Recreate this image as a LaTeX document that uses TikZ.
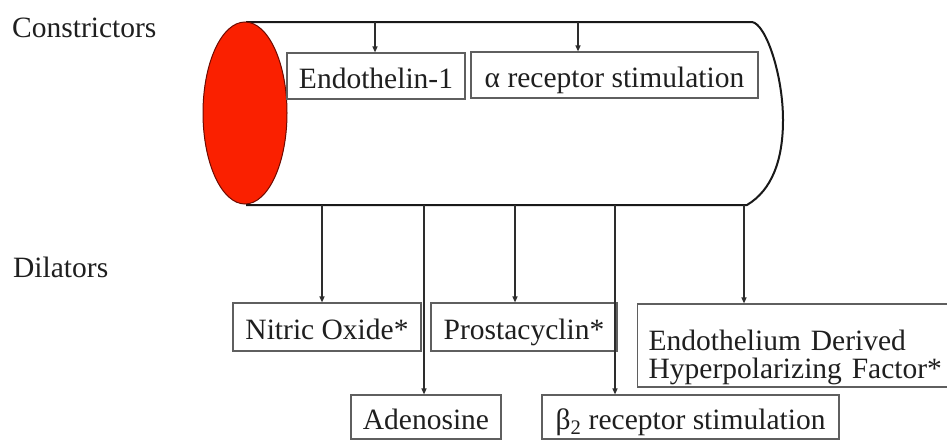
\documentclass[tikz,border=0pt]{standalone}
\usepackage{fontspec}
\setmainfont{Liberation Serif}
\newfontfamily\vesselfont{Liberation Serif}
\usetikzlibrary{arrows.meta}
\definecolor{boxgray}{RGB}{95,95,95}
\definecolor{linegray}{RGB}{45,45,45}
\definecolor{vesselred}{RGB}{250,32,0}
\definecolor{rimred}{RGB}{110,10,0}
\begin{document}
\begin{tikzpicture}[x=1pt,y=-1pt,
  every node/.style={font=\vesselfont\fontsize{29.5}{28}\selectfont, text=black!88},
  box/.style={draw=boxgray, line width=1.2pt, rectangle, inner sep=0pt, text height=24pt, text depth=0pt},
  arr/.style={draw=linegray, line width=1.2pt, -{Triangle[length=6pt,width=5pt]}},
  tube/.style={draw=black!90, line width=2pt, line join=round}]
\clip (0,0) rectangle (947,439);
\fill[white] (0,0) rectangle (947,439);
% vessel
\draw[tube] (246,22) -- (752,22) .. controls (766,24) and (783,75) .. (783,120)
  .. controls (783,160) and (772,190) .. (747,205) -- (246,205);
\draw[fill=vesselred, draw=rimred, line width=1pt] (245,113) ellipse [x radius=42pt, y radius=91pt];
% labels
\node[anchor=base west, inner sep=0pt] (con) at (12,37) {Constrictors};
\node[anchor=base west, inner sep=0pt] (dil) at (13,277) {Dilators};
% constrictor boxes
\node[box, minimum width=178pt, minimum height=46pt] (endo) at (376,76) {Endothelin-1};
\node[box, minimum width=287pt, minimum height=46pt] (alpha) at (614.5,75) {α receptor stimulation};
% dilator boxes
\node[box, minimum width=188pt, minimum height=48pt] (no) at (327,327) {Nitric Oxide*};
\node[box, minimum width=186pt, minimum height=48pt] (pgi) at (524,327) {Prostacyclin*};
\node[box, anchor=west, minimum height=83pt, text width=300pt, inner xsep=11pt, align=left,
  text height=24pt, text depth=15pt] (edhf) at (637,345.5) {Endothelium Derived\\Hyperpolarizing Factor*};
\node[box, minimum width=150pt, minimum height=44pt] (ado) at (426,417) {Adenosine};
\node[box, minimum width=297pt, minimum height=44pt] (beta) at (690.5,417) {β\textsubscript{2} receptor stimulation};
% connectors
\coordinate (tE) at (375,22);
\coordinate (tA) at (578,22);
\coordinate (bNO) at (322,205);
\coordinate (bAD) at (424,205);
\coordinate (bPG) at (515,205);
\coordinate (bBE) at (615,205);
\coordinate (bED) at (744,205);
\draw[arr] (tE) -- (tE |- endo.north);
\draw[arr] (tA) -- (tA |- alpha.north);
\draw[arr] (bNO) -- (bNO |- no.north);
\draw[arr] (bAD) -- (bAD |- ado.north);
\draw[arr] (bPG) -- (bPG |- pgi.north);
\draw[arr] (bBE) -- (bBE |- beta.north);
\draw[arr] (bED) -- (bED |- edhf.north);
\end{tikzpicture}
\end{document}
